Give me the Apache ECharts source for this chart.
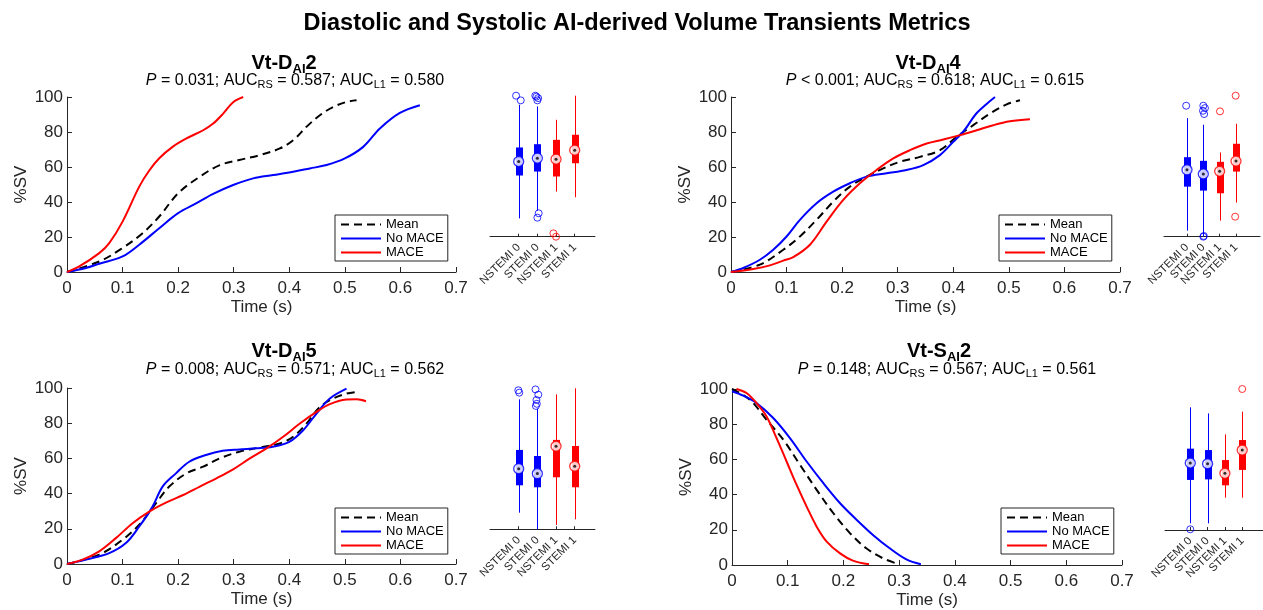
<!DOCTYPE html>
<html>
<head>
<meta charset="utf-8">
<script src="https://cdn.jsdelivr.net/npm/echarts@6/dist/echarts.min.js"></script>
<style>
  html, body { margin: 0; background: #fff; }
  #chart { width: 1263px; height: 610px; }
</style>
</head>
<body>
<div id="chart"></div>
<script>
const FONT = '"Liberation Sans", Arial, sans-serif'
const AXIS_COLOR = '#262626'

// ---- curve data: [time (s), %SV] ----
// Vt-D_AI2
const d2Mean = [[0, 0], [0.058, 6], [0.1, 13.7], [0.136, 22.2], [0.166, 31.7], [0.2, 45], [0.239, 54.5], [0.275, 61.1], [0.31, 64], [0.347, 66.8], [0.383, 70.6], [0.407, 75.3], [0.431, 83], [0.455, 89.6], [0.479, 94.3], [0.503, 97.2], [0.521, 98.1]]
const d2NoMace = [[0, 0], [0.034, 2.3], [0.058, 4.7], [0.1, 8.9], [0.13, 15.6], [0.166, 25], [0.2, 33.6], [0.233, 39.3], [0.263, 44.6], [0.299, 49.7], [0.335, 53.5], [0.371, 55.4], [0.407, 57.3], [0.437, 59.2], [0.467, 61.1], [0.5, 64.9], [0.533, 71.5], [0.563, 82], [0.599, 90.9], [0.635, 95.3]]
const d2Mace = [[0, 0], [0.022, 3.2], [0.058, 10.8], [0.076, 16.5], [0.1, 28.8], [0.13, 48.8], [0.148, 58], [0.166, 65], [0.19, 71.5], [0.215, 76.3], [0.245, 81], [0.263, 84.8], [0.281, 90.5], [0.299, 97], [0.317, 100]]

// Vt-D_AI4
const d4Mean = [[0, 0], [0.052, 4.2], [0.094, 12.7], [0.124, 20.3], [0.154, 29.8], [0.184, 40.2], [0.214, 48.8], [0.244, 54.5], [0.274, 59.2], [0.304, 63], [0.34, 65.8], [0.376, 69.6], [0.406, 77.2], [0.436, 83.9], [0.466, 90.5], [0.496, 95.8], [0.52, 98.1]]
const d4NoMace = [[0, 0], [0.022, 2.3], [0.052, 7], [0.076, 12.7], [0.1, 20.3], [0.124, 29.8], [0.154, 39.3], [0.184, 45.9], [0.214, 50.7], [0.244, 54.5], [0.28, 56.4], [0.316, 58.3], [0.346, 61.1], [0.376, 66.8], [0.4, 74.4], [0.42, 81], [0.44, 90], [0.46, 96], [0.475, 100]]
const d4Mace = [[0, 0], [0.04, 1.7], [0.07, 3.8], [0.094, 6.5], [0.112, 8.5], [0.142, 15.6], [0.172, 28.8], [0.202, 41.2], [0.232, 50.7], [0.262, 58.3], [0.292, 64.9], [0.322, 69.6], [0.352, 73.4], [0.382, 75.7], [0.412, 78.2], [0.442, 81], [0.472, 83.9], [0.502, 86.1], [0.538, 87.3]]

// Vt-D_AI5
const d5Mean = [[0, 0], [0.058, 5.3], [0.1, 13.8], [0.13, 22.3], [0.16, 34.5], [0.184, 44], [0.215, 51.5], [0.245, 55.3], [0.275, 60], [0.31, 63.8], [0.347, 66.2], [0.383, 68.5], [0.407, 72.3], [0.431, 79.8], [0.455, 89.2], [0.479, 94], [0.503, 96.8], [0.52, 97.7]]
const d5NoMace = [[0, 0], [0.034, 2.5], [0.076, 6.2], [0.106, 11.9], [0.13, 21.3], [0.154, 32.6], [0.172, 44], [0.196, 51.5], [0.22, 58.1], [0.25, 61.9], [0.28, 64.3], [0.31, 65.1], [0.34, 65.7], [0.37, 66.6], [0.4, 69.4], [0.425, 76], [0.449, 85.5], [0.473, 94], [0.503, 99.6]]
const d5Mace = [[0, 0], [0.028, 2.5], [0.058, 7.2], [0.088, 14.7], [0.118, 23.2], [0.148, 29.8], [0.178, 34.9], [0.209, 39.2], [0.239, 44], [0.269, 48.7], [0.299, 53.8], [0.329, 60], [0.359, 65.7], [0.389, 72.3], [0.419, 79.8], [0.449, 86.4], [0.473, 90.8], [0.503, 93.4], [0.521, 93.6], [0.538, 92.5]]

// Vt-S_AI2
const s2Mean = [[0, 100], [0.032, 93.9], [0.062, 82.5], [0.092, 71.2], [0.122, 56.9], [0.152, 42.7], [0.182, 29.4], [0.212, 18], [0.241, 9.5], [0.271, 3.8], [0.298, 0.6]]
const s2NoMace = [[0, 98.7], [0.02, 96.2], [0.044, 92], [0.074, 83.5], [0.104, 72.1], [0.134, 58.8], [0.164, 46.5], [0.194, 35.1], [0.224, 25.6], [0.253, 17.1], [0.283, 9.5], [0.313, 3.2], [0.339, 0.4]]
const s2Mace = [[0.008, 100], [0.026, 97.7], [0.044, 92], [0.062, 84.4], [0.08, 72.1], [0.098, 58.8], [0.116, 45.5], [0.134, 33.2], [0.152, 21.8], [0.17, 13.3], [0.194, 6.6], [0.217, 2.5], [0.246, 0.4]]

// ---- box plot data: [low whisker, Q1, median, Q3, high whisker] per group ----
const boxLabels = ['NSTEMI 0', 'STEMI 0', 'NSTEMI 1', 'STEMI 1']
const boxColors = ['#0000ff', '#0000ff', '#ff0000', '#ff0000']

const d2Box = [[13, 43.4, 53.3, 63.3, 93.6], [18.5, 46.2, 55.7, 65.6, 92.4], [32, 42.7, 55, 68.7, 82.9], [28, 52.1, 61.4, 72.3, 100]]
const d2Out = [[0.86, 100], [1.11, 96.7], [1.89, 100], [1.95, 99.3], [2.04, 98.3], [2, 96.7], [2.07, 16.6], [2, 13.5], [2.86, 2.4], [3, 0]]

const d4Box = [[4.3, 35.5, 47.4, 56.4, 84.1], [0, 32.7, 44.5, 53.8, 79.4], [11.4, 30.8, 46.4, 53.1, 59.7], [24.2, 46.2, 53.6, 65.9, 80.1]]
const d4Out = [[0.95, 92.9], [2, 92.9], [2.1, 91.2], [1.98, 89.3], [2.05, 87], [2, 0], [2.03, 0.5], [3.02, 88.9], [3.98, 100], [3.95, 14.2]]

const d5Box = [[11.8, 31.2, 43, 56.3, 92.2], [0, 29.8, 39.5, 52, 85.5], [3.1, 36.9, 58.9, 63.4, 95.7], [7.1, 29.8, 44.7, 59.1, 100]]
const d5Out = [[0.98, 98.6], [1.03, 96.9], [1.9, 99.2], [2.05, 95.5], [1.95, 91.7], [1.97, 89], [1.92, 87.5]]

const s2Box = [[4.7, 35.5, 47.5, 57.7, 87], [4.7, 35.9, 47, 56.7, 82.7], [22.9, 31.7, 40.2, 49.6, 67.8], [22.9, 42.6, 56.7, 63.8, 83.9]]
const s2Out = [[1, 0.5], [4, 100]]

// ---- layout ----
const lineGrids = [
  { left: 67, top: 97, width: 389, height: 175 },
  { left: 731, top: 97, width: 389, height: 175 },
  { left: 67, top: 388, width: 389, height: 176 },
  { left: 732, top: 389, width: 390, height: 176 }
]
// box panels: x range chosen so groups 1..4 land on the reference tick positions
const boxGrids = [
  { left: 490, top: 81.6, width: 105, height: 155.1, min: -0.537, max: 5.087 },
  { left: 1164, top: 81.6, width: 96, height: 155.1, min: -0.407, max: 5.47 },
  { left: 490, top: 374.2, width: 105, height: 155.1, min: -0.537, max: 5.087 },
  { left: 1165, top: 374.9, width: 98, height: 155.1, min: -0.46, max: 5.2 }
]
const legendPos = [[335, 215], [999, 215], [335, 508], [1001, 508]]

const panels = [
  { curves: [d2Mean, d2NoMace, d2Mace], box: d2Box, out: d2Out },
  { curves: [d4Mean, d4NoMace, d4Mace], box: d4Box, out: d4Out },
  { curves: [d5Mean, d5NoMace, d5Mace], box: d5Box, out: d5Out },
  { curves: [s2Mean, s2NoMace, s2Mace], box: s2Box, out: s2Out }
]

// titles (rich text with subscripts)
const titleRich = {
  b: { fontFamily: FONT, fontSize: 20, fontWeight: 'bold', fill: '#000', lineHeight: 24 },
  s: { fontFamily: FONT, fontSize: 13, fontWeight: 'bold', fill: '#000', lineHeight: 24, padding: [12, 0, 0, 0] }
}
const subRich = {
  n: { fontFamily: FONT, fontSize: 16, fill: '#000', lineHeight: 20 },
  i: { fontFamily: FONT, fontSize: 16, fontStyle: 'italic', fill: '#000', lineHeight: 20 },
  s: { fontFamily: FONT, fontSize: 11, fill: '#000', lineHeight: 20, padding: [8, 0, 0, 0] }
}
const titles = [
  { x: 284, y: 63, text: '{b|Vt-D}{s|AI}{b|2}' },
  { x: 928, y: 63, text: '{b|Vt-D}{s|AI}{b|4}' },
  { x: 284, y: 351, text: '{b|Vt-D}{s|AI}{b|5}' },
  { x: 939, y: 351, text: '{b|Vt-S}{s|AI}{b|2}' }
]
const subtitles = [
  { x: 295, y: 81, text: '{i|P}{n| = 0.031; AUC}{s|RS}{n| = 0.587; AUC}{s|L1}{n| = 0.580}' },
  { x: 935, y: 81, text: '{i|P}{n| < 0.001; AUC}{s|RS}{n| = 0.618; AUC}{s|L1}{n| = 0.615}' },
  { x: 295, y: 370, text: '{i|P}{n| = 0.008; AUC}{s|RS}{n| = 0.571; AUC}{s|L1}{n| = 0.562}' },
  { x: 947, y: 370, text: '{i|P}{n| = 0.148; AUC}{s|RS}{n| = 0.567; AUC}{s|L1}{n| = 0.561}' }
]

const seriesNames = ['Mean', 'No MACE', 'MACE']
const seriesColors = ['#000000', '#0000ff', '#ff0000']

function renderBox(params, api) {
  const x = api.value(0)
  const lo = api.coord([x, api.value(1)])
  const q1 = api.coord([x, api.value(2)])
  const q3 = api.coord([x, api.value(4)])
  const hi = api.coord([x, api.value(5)])
  const cx = Math.round(lo[0]) + 0.5
  const color = api.visual('color')
  return {
    type: 'group',
    children: [
      { type: 'line', shape: { x1: cx, y1: lo[1], x2: cx, y2: hi[1] }, style: { stroke: color, lineWidth: 1 } },
      { type: 'rect', shape: { x: cx - 3.5, y: q3[1], width: 7, height: q1[1] - q3[1] }, style: { fill: color } }
    ]
  }
}

const grid = []
const xAxis = []
const yAxis = []
const series = []

lineGrids.forEach((g) => {
  grid.push({ left: g.left, top: g.top, width: g.width, height: g.height, containLabel: false, outerBoundsMode: 'none' })
  xAxis.push({
    gridIndex: grid.length - 1,
    type: 'value', min: 0, max: 0.7, interval: 0.1,
    name: 'Time (s)', nameLocation: 'middle', nameGap: 27,
    nameTextStyle: { fontFamily: FONT, fontSize: 17, color: AXIS_COLOR },
    axisLine: { show: true, onZero: false, lineStyle: { color: AXIS_COLOR, width: 1 } },
    axisTick: { show: true, inside: true, length: 5, lineStyle: { color: AXIS_COLOR } },
    axisLabel: { fontFamily: FONT, fontSize: 17, color: AXIS_COLOR, margin: 8 },
    splitLine: { show: false }
  })
  yAxis.push({
    gridIndex: grid.length - 1,
    type: 'value', min: 0, max: 100, interval: 20,
    name: '%SV', nameLocation: 'middle', nameGap: 37, nameRotate: 90,
    nameTextStyle: { fontFamily: FONT, fontSize: 17, color: AXIS_COLOR },
    axisLine: { show: true, onZero: false, lineStyle: { color: AXIS_COLOR, width: 1 } },
    axisTick: { show: true, inside: true, length: 5, lineStyle: { color: AXIS_COLOR } },
    axisLabel: { fontFamily: FONT, fontSize: 17, color: AXIS_COLOR, margin: 4 },
    splitLine: { show: false }
  })
})

boxGrids.forEach((g) => {
  grid.push({ left: g.left, top: g.top, width: g.width, height: g.height, containLabel: false, outerBoundsMode: 'none' })
  xAxis.push({
    gridIndex: grid.length - 1,
    type: 'value', min: g.min, max: g.max,
    axisLine: { show: true, onZero: false, lineStyle: { color: AXIS_COLOR, width: 1 } },
    axisTick: { show: true, inside: true, length: 3, customValues: [1, 2, 3, 4], lineStyle: { color: AXIS_COLOR } },
    axisLabel: {
      customValues: [1, 2, 3, 4], rotate: 45, margin: 9, hideOverlap: false,
      fontFamily: FONT, fontSize: 11.3, lineHeight: 10, color: AXIS_COLOR,
      formatter: (v) => boxLabels[Math.round(v) - 1] || ''
    },
    splitLine: { show: false }
  })
  yAxis.push({
    gridIndex: grid.length - 1,
    type: 'value', min: 0, max: 110, show: false,
    splitLine: { show: false }
  })
})

panels.forEach((p, i) => {
  p.curves.forEach((c, k) => {
    series.push({
      name: seriesNames[k], type: 'line', xAxisIndex: i, yAxisIndex: i,
      data: c, symbol: 'none', showSymbol: false, smooth: 0.35,
      lineStyle: { color: seriesColors[k], width: 2, type: k === 0 ? [8, 5] : 'solid' },
      itemStyle: { color: seriesColors[k] },
      z: 2 + k
    })
  })
  const bi = 4 + i
  series.push({
    type: 'custom', xAxisIndex: bi, yAxisIndex: bi, renderItem: renderBox, silent: true,
    data: p.box.map((s, k) => ({ value: [k + 1, ...s], itemStyle: { color: boxColors[k] } })),
    z: 3
  })
  series.push({
    type: 'scatter', xAxisIndex: bi, yAxisIndex: bi, symbol: 'circle', symbolSize: 7, silent: true,
    data: p.out.map((o) => ({ value: o, itemStyle: { color: 'rgba(0,0,0,0)', borderColor: boxColors[Math.round(o[0]) - 1], borderWidth: 1 } })),
    z: 4
  })
  series.push({
    type: 'scatter', xAxisIndex: bi, yAxisIndex: bi, symbol: 'circle', symbolSize: 10, silent: true,
    data: p.box.map((s, k) => ({ value: [k + 1, s[2]], itemStyle: { color: '#fff', borderColor: boxColors[k], borderWidth: 1.3 } })),
    z: 5
  })
  series.push({
    type: 'scatter', xAxisIndex: bi, yAxisIndex: bi, symbol: 'circle', symbolSize: 3, silent: true,
    data: p.box.map((s, k) => [k + 1, s[2]]),
    itemStyle: { color: '#000' },
    z: 6
  })
})

const legend = legendPos.map((pos) => ({
  data: seriesNames, orient: 'vertical', left: pos[0], top: pos[1],
  itemWidth: 40, itemHeight: 14, itemGap: 1, padding: [3, 4, 2, 5],
  borderColor: AXIS_COLOR, borderWidth: 1, backgroundColor: '#fff',
  selectedMode: false,
  itemStyle: { opacity: 0 },
  textStyle: { fontFamily: FONT, fontSize: 13, color: '#000' }
}))

const graphic = [
  {
    type: 'text', x: 637, y: 24,
    style: { text: 'Diastolic and Systolic AI-derived Volume Transients Metrics', fontFamily: FONT, fontSize: 23.5, fontWeight: 'bold', fill: '#000', align: 'center', verticalAlign: 'middle' }
  }
]
titles.forEach((t) => graphic.push({ type: 'text', x: t.x, y: t.y, style: { text: t.text, rich: titleRich, align: 'center', verticalAlign: 'middle' } }))
subtitles.forEach((t) => graphic.push({ type: 'text', x: t.x, y: t.y, style: { text: t.text, rich: subRich, align: 'center', verticalAlign: 'middle' } }))

const chart = echarts.init(document.getElementById('chart'))
chart.setOption({
  animation: false,
  backgroundColor: '#fff',
  textStyle: { fontFamily: FONT },
  grid, xAxis, yAxis, series, legend, graphic
})
</script>
</body>
</html>
